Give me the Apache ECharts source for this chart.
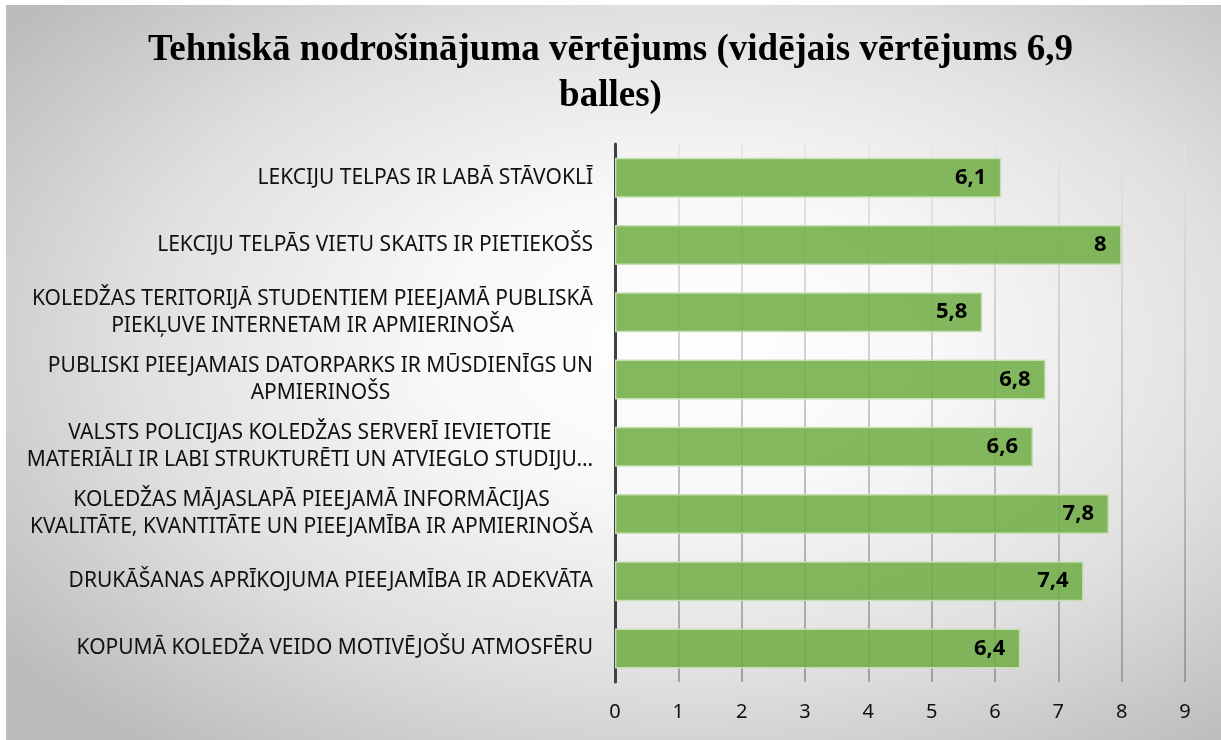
<!DOCTYPE html>
<html>
<head>
<meta charset="utf-8">
<style>
  html, body { margin: 0; padding: 0; background: #fff; }
  #main { width: 1221px; height: 740px; }
</style>
<script src="https://cdn.jsdelivr.net/npm/echarts@6/dist/echarts.min.js"></script>
</head>
<body>
<div id="main"></div>
<script>
// chart data
const titleText = 'Tehniskā nodrošinājuma vērtējums (vidējais vērtējums 6,9\nballes)'
const categories = [
  'LEKCIJU TELPAS IR LABĀ STĀVOKLĪ',
  'LEKCIJU TELPĀS VIETU SKAITS IR PIETIEKOŠS',
  'KOLEDŽAS TERITORIJĀ STUDENTIEM PIEEJAMĀ PUBLISKĀ\nPIEKĻUVE INTERNETAM IR APMIERINOŠA',
  'PUBLISKI PIEEJAMAIS DATORPARKS IR MŪSDIENĪGS UN\nAPMIERINOŠS',
  'VALSTS POLICIJAS KOLEDŽAS SERVERĪ IEVIETOTIE\nMATERIĀLI IR LABI STRUKTURĒTI UN ATVIEGLO STUDIJU…',
  'KOLEDŽAS MĀJASLAPĀ PIEEJAMĀ INFORMĀCIJAS\nKVALITĀTE, KVANTITĀTE UN PIEEJAMĪBA IR APMIERINOŠA',
  'DRUKĀŠANAS APRĪKOJUMA PIEEJAMĪBA IR ADEKVĀTA',
  'KOPUMĀ KOLEDŽA VEIDO MOTIVĒJOŠU ATMOSFĒRU'
]
const scores = [6.1, 8, 5.8, 6.8, 6.6, 7.8, 7.4, 6.4]
const axisMin = 0
const axisMax = 9

const chart = echarts.init(document.getElementById('main'))

chart.setOption({
  backgroundColor: '#fff',
  graphic: [{
    // grey radial backdrop (squashed to an ellipse)
    type: 'rect',
    left: 6,
    top: 5,
    z: -10,
    silent: true,
    scaleY: 735 / 1215,
    shape: { width: 1215, height: 1215 },
    style: {
      fill: new echarts.graphic.RadialGradient(0.56, 0.46, 0.7, [
        { offset: 0, color: '#ffffff' },
        { offset: 0.3, color: '#f8f8f8' },
        { offset: 0.65, color: '#e0e0e0' },
        { offset: 1, color: '#bcbcbc' }
      ])
    }
  }],
  title: {
    text: titleText,
    left: 'center',
    top: 22,
    textStyle: {
      fontFamily: 'Liberation Serif',
      fontWeight: 'bold',
      fontSize: 37,
      lineHeight: 46,
      color: '#000'
    }
  },
  grid: {
    left: 615,
    right: 36,
    top: 144,
    bottom: 58
  },
  xAxis: {
    type: 'value',
    min: axisMin,
    max: axisMax,
    interval: 1,
    axisLine: { show: false },
    axisTick: { show: false },
    axisLabel: {
      margin: 20,
      fontFamily: 'Noto Sans',
      fontSize: 20,
      color: '#111'
    },
    splitLine: {
      show: true,
      lineStyle: {
        width: 1.5,
        color: new echarts.graphic.LinearGradient(0, 144, 0, 682, [
          { offset: 0, color: '#e4e4e4' },
          { offset: 1, color: '#8a8a8a' }
        ], true)
      }
    }
  },
  yAxis: {
    type: 'category',
    inverse: true,
    data: categories,
    axisLine: { show: true, lineStyle: { color: '#404040', width: 3 } },
    axisTick: { show: false },
    axisLabel: {
      margin: 22,
      formatter: function (v) {
        return v.split('\n').map(l => '{c|' + l + '}').join('\n')
      },
      rich: {
        c: {
          align: 'center',
          fontFamily: 'Noto Sans',
          fontSize: 21,
          lineHeight: 27,
          color: '#111'
        }
      }
    }
  },
  series: [{
    type: 'bar',
    data: scores,
    barWidth: 40,
    itemStyle: {
      color: 'rgba(112,173,71,0.87)',
      borderColor: '#c6e0b4',
      borderWidth: 1.5
    },
    label: {
      show: true,
      position: 'insideRight',
      distance: 15,
      fontFamily: 'Noto Sans',
      fontWeight: 'bold',
      fontSize: 22,
      color: '#000',
      formatter: p => String(p.value).replace('.', ',')
    }
  }]
})
</script>
</body>
</html>
